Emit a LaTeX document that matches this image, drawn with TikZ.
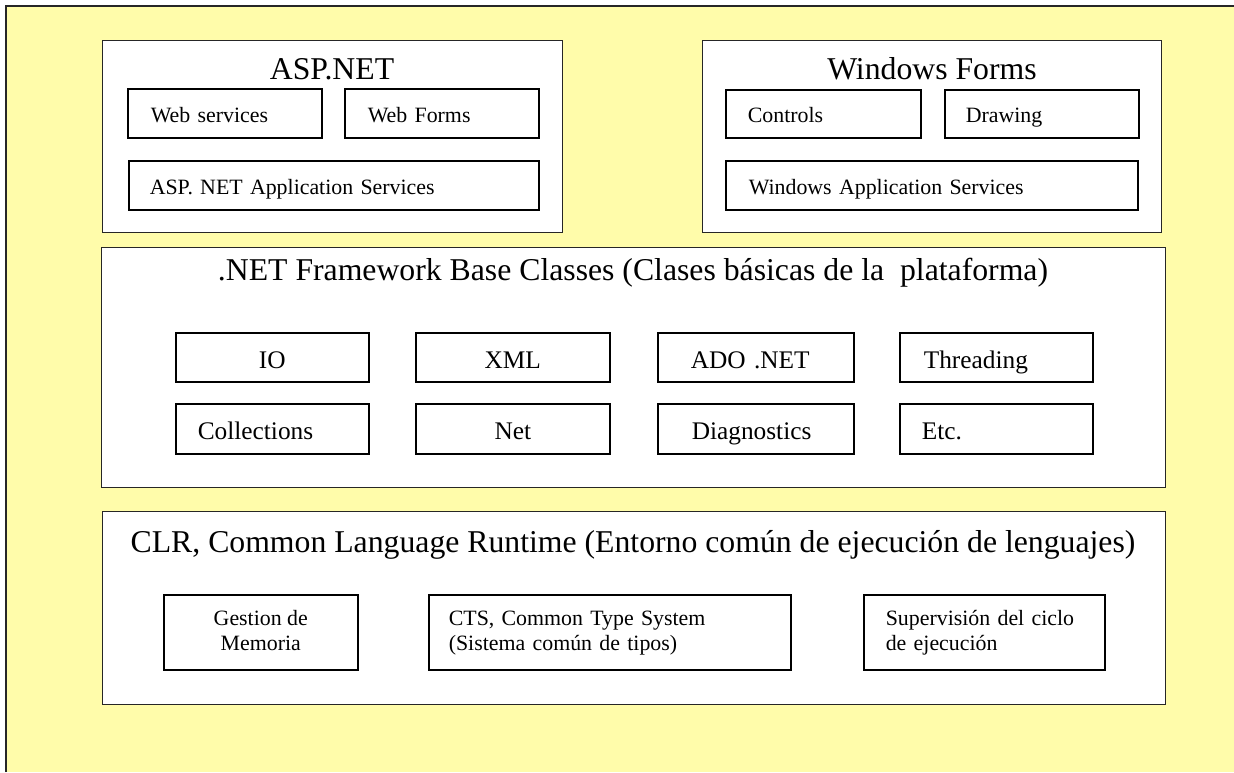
\documentclass[tikz,border=0pt]{standalone}
\usepackage{fontspec}
\setmainfont{Liberation Serif}
\definecolor{paleyellow}{RGB}{255,252,170}
\newcommand{\topstrut}{\rule{0pt}{0.75em}}
\newcommand{\botstrut}{\rule[-0.25em]{0pt}{0pt}}
\tikzset{
  layer/.style={draw=black!85, line width=0.8pt, fill=white, anchor=north west, inner sep=0pt},
  heading/.style={anchor=base, font=\fontsize{23.8}{28}\selectfont},
  part/.style={draw, line width=1.2pt, fill=white, anchor=north west, inner ysep=0pt, text depth=0pt},
  webpart/.style={part, text height=13.6pt, font=\fontsize{16.4}{18.75}\selectfont},
  classpart/.style={part, text height=16.1pt, font=\fontsize{19}{22}\selectfont},
  runpart/.style={draw, line width=1.2pt, fill=white, anchor=north west, inner ysep=0pt, minimum height=56.25pt, font=\fontsize{16.4}{18.75}\selectfont},
}
\begin{document}
\begin{tikzpicture}[x=0.75pt, y=-0.75pt]
  \useasboundingbox (0,0) rectangle (1234,773);
  \fill[paleyellow] (6,6) rectangle (1234,772);
  \draw[black!85, line width=1.3pt] (6,772) -- (6,6) -- (1234,6);

  \node[layer, minimum width=345pt, minimum height=144pt] (asp) at (102,40) {};
  \node[layer, minimum width=344.25pt, minimum height=144pt] (winforms) at (702,40) {};
  \node[layer, minimum width=798pt, minimum height=180pt] (base) at (101,247) {};
  \node[layer, minimum width=797.25pt, minimum height=144.75pt] (clr) at (102,511) {};

  \node[heading] (asptitle) at (332,80) {ASP.NET};
  \node[heading] (wintitle) at (932,80) {Windows Forms};
  \node[heading] (basetitle) at (633,281) {.NET Framework Base Classes (Clases básicas de la~~plataforma)};
  \node[heading] (clrtitle) at (633,552) {CLR, Common Language Runtime (Entorno común de ejecución de lenguajes)};

  \node[webpart, minimum width=145.5pt, minimum height=36.75pt, inner xsep=17.25pt, text width=111pt, align=left] (websvc) at (127,88) {Web services};
  \node[webpart, minimum width=145.5pt, minimum height=36.75pt, inner xsep=17.25pt, text width=111pt, align=left] (webforms) at (344,88) {Web Forms};
  \node[webpart, minimum width=307.5pt, minimum height=36.75pt, inner xsep=15.75pt, text width=276pt, align=left] (aspapp) at (128,160) {ASP. NET Application Services};
  \node[webpart, minimum width=146.25pt, minimum height=36pt, inner xsep=16.5pt, text width=113.25pt, align=left] (controls) at (725,89) {Controls};
  \node[webpart, minimum width=145.5pt, minimum height=36pt, inner xsep=15.75pt, text width=114pt, align=left] (drawing) at (944,89) {Drawing};
  \node[webpart, minimum width=309pt, minimum height=36.75pt, inner xsep=17.25pt, text width=274.5pt, align=left] (winapp) at (725,160) {Windows Application Services};

  \node[classpart, minimum width=144.75pt, minimum height=36.75pt] (io) at (175,332) {IO};
  \node[classpart, minimum width=145.5pt, minimum height=36.75pt] (xml) at (415,332) {XML};
  \node[classpart, minimum width=147pt, minimum height=36.75pt, inner xsep=24.75pt, text width=97.5pt, align=left] (ado) at (657,332) {ADO .NET};
  \node[classpart, minimum width=144.75pt, minimum height=36.75pt, inner xsep=18pt, text width=108.75pt, align=left] (threading) at (899,332) {Threading};
  \node[classpart, minimum width=144.75pt, minimum height=37.5pt, inner xsep=16.5pt, text width=111.75pt, align=left] (collections) at (175,403) {Collections};
  \node[classpart, minimum width=145.5pt, minimum height=37.5pt] (net) at (415,403) {Net};
  \node[classpart, minimum width=147pt, minimum height=37.5pt, inner xsep=25.5pt, text width=96pt, align=left] (diagnostics) at (657,403) {Diagnostics};
  \node[classpart, minimum width=144.75pt, minimum height=37.5pt, inner xsep=16.5pt, text width=111.75pt, align=left] (etc) at (899,403) {Etc.};

  \node[runpart, minimum width=145.5pt, align=center] (memoria) at (163,594) {\topstrut Gestion de\\Memoria\botstrut};
  \node[runpart, minimum width=271.5pt, inner xsep=15pt, text width=241.5pt, align=left] (cts) at (428,594) {\topstrut CTS, Common Type System\\(Sistema común de tipos)\botstrut};
  \node[runpart, minimum width=180.75pt, inner xsep=16.5pt, text width=147.75pt, align=left] (ciclo) at (863,594) {\topstrut Supervisión del ciclo\\de ejecución\botstrut};
\end{tikzpicture}
\end{document}
